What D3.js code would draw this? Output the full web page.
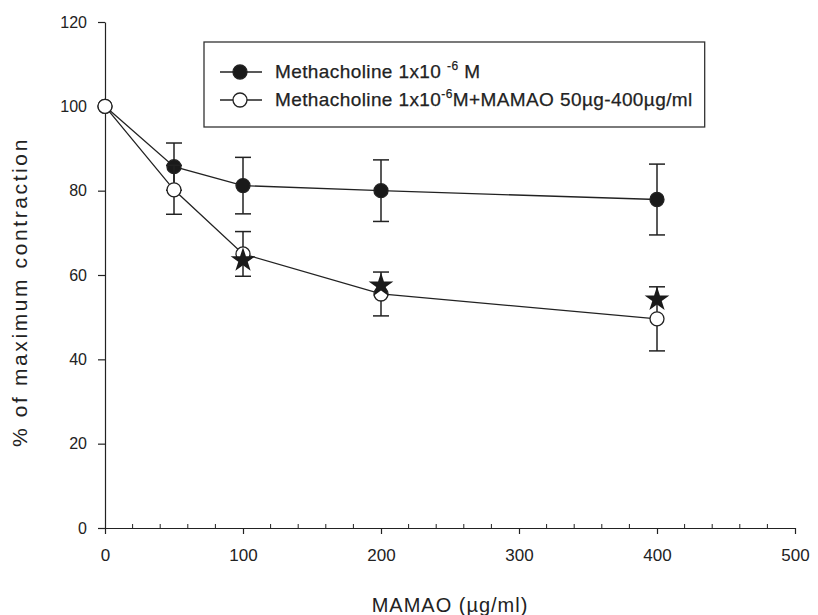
<!DOCTYPE html>
<html lang="en">
<head>
    <meta charset="UTF-8">
    <script src="https://d3js.org/d3.v7.min.js"></script>
    <title>Methacholine vs MAMAO</title>
    <style>
        body { margin: 0; background: #fff; }
        text { font-family: Arial, "Liberation Sans", sans-serif; fill: #222; }
    </style>
</head>
<body>
    <div id="chart"></div>
    <script>
        // data
        const doses = [0, 50, 100, 200, 400];
        const methMean = [100, 85.7, 81.2, 80.0, 77.9];
        const methErr = [0, 5.6, 6.7, 7.3, 8.4];
        const mamaoMean = [100, 80.2, 65.0, 55.5, 49.6];
        const mamaoErr = [0, 5.8, 5.3, 5.2, 7.6];
        const starDoses = [100, 200, 400];
        const starValues = [63.5, 57.5, 54.2];
        const xTicks = [0, 100, 200, 300, 400, 500];
        const yTicks = [0, 20, 40, 60, 80, 100, 120];

        const width = 818, height = 615;
        const margin = {top: 22, right: 23, bottom: 88, left: 105};

        const svg = d3.select("#chart").append("svg")
            .attr("width", width)
            .attr("height", height);

        const x = d3.scaleLinear().domain([0, 500]).range([margin.left, width - margin.right]);
        const y = d3.scaleLinear().domain([0, 120]).range([height - margin.bottom + 1, margin.top]);

        // x axis: major ticks pointing down, minor ticks up
        const gx = svg.append("g")
            .attr("transform", `translate(0,${y(0)})`)
            .call(d3.axisBottom(x).tickValues(xTicks).tickSize(6).tickSizeOuter(0).tickPadding(15));
        gx.selectAll(".tick text").attr("font-size", 17);
        const minor = d3.range(0, 501, 20).filter(v => v % 100 !== 0);
        gx.selectAll(".minor").data(minor).enter().append("line")
            .attr("x1", d => x(d)).attr("x2", d => x(d))
            .attr("y1", 0).attr("y2", -4)
            .attr("stroke", "#222");

        const gy = svg.append("g")
            .attr("transform", `translate(${x(0)},0)`)
            .call(d3.axisLeft(y).tickValues(yTicks).tickSize(7).tickSizeOuter(0).tickPadding(11));
        gy.selectAll(".tick text").attr("font-size", 16);
        svg.selectAll(".domain, .tick line").attr("stroke", "#222").attr("stroke-width", 1.2);

        // axis titles
        svg.append("text")
            .attr("x", 450).attr("y", 612)
            .attr("text-anchor", "middle")
            .attr("font-size", 20)
            .attr("letter-spacing", 1)
            .text("MAMAO (µg/ml)");
        svg.append("text")
            .attr("transform", `translate(27,292) rotate(-90)`)
            .attr("text-anchor", "middle")
            .attr("font-size", 21)
            .attr("letter-spacing", 2.6)
            .text("% of maximum contraction");

        const line = d3.line().x(d => x(d[0])).y(d => y(d[1]));

        function drawSeries(means, errs, fill) {
            const pts = doses.map((d, i) => [d, means[i], errs[i]]);
            svg.append("path").datum(pts)
                .attr("d", line)
                .attr("fill", "none")
                .attr("stroke", "#222")
                .attr("stroke-width", 1.3);
            const eb = svg.append("g");
            pts.filter(p => p[2] > 0).forEach(p => {
                const cx = x(p[0]);
                eb.append("line").attr("x1", cx).attr("x2", cx)
                    .attr("y1", y(p[1] - p[2])).attr("y2", y(p[1] + p[2]));
                [p[1] - p[2], p[1] + p[2]].forEach(v => {
                    eb.append("line").attr("x1", cx - 8).attr("x2", cx + 8)
                        .attr("y1", y(v)).attr("y2", y(v));
                });
            });
            eb.selectAll("line").attr("stroke", "#222").attr("stroke-width", 1.5);
            svg.append("g").selectAll("circle").data(pts).enter().append("circle")
                .attr("cx", d => x(d[0])).attr("cy", d => y(d[1]))
                .attr("r", 7)
                .attr("fill", fill)
                .attr("stroke", "#222")
                .attr("stroke-width", 1.3);
        }

        drawSeries(methMean, methErr, "#1a1a1a");
        drawSeries(mamaoMean, mamaoErr, "#fff");

        // significance stars
        svg.append("g").selectAll("path").data(starDoses).enter().append("path")
            .attr("d", d3.symbol().type(d3.symbolStar).size(190))
            .attr("transform", (d, i) => `translate(${x(d)},${y(starValues[i])})`)
            .attr("fill", "#1a1a1a");

        // legend
        const lg = svg.append("g");
        const box = lg.append("rect")
            .attr("x", 204).attr("y", 42).attr("height", 85)
            .attr("fill", "#fff").attr("stroke", "#333").attr("stroke-width", 1.3);
        const entries = [
            {fill: "#1a1a1a", y: 72, pre: "Methacholine 1x10 ", sup: "-6", post: " M"},
            {fill: "#fff", y: 100, pre: "Methacholine 1x10", sup: "-6", post: "M+MAMAO 50µg-400µg/ml"}
        ];
        let right = 0;
        entries.forEach(e => {
            lg.append("line").attr("x1", 220).attr("x2", 262)
                .attr("y1", e.y).attr("y2", e.y)
                .attr("stroke", "#222").attr("stroke-width", 1.3);
            lg.append("circle").attr("cx", 240).attr("cy", e.y).attr("r", 7)
                .attr("fill", e.fill).attr("stroke", "#222").attr("stroke-width", 1.3);
            const t = lg.append("text").attr("x", 275).attr("y", e.y + 6)
                .attr("font-size", 19)
                .attr("letter-spacing", 0.4)
                .style("white-space", "pre")
                .attr("stroke", "#222").attr("stroke-width", 0.25);
            t.append("tspan").text(e.pre);
            t.append("tspan").attr("dy", -8).attr("font-size", 12).text(e.sup);
            t.append("tspan").attr("dy", 8).text(e.post);
            const b = t.node().getBBox();
            right = Math.max(right, b.x + b.width);
        });
        box.attr("width", right + 12 - 204);
    </script>
</body>
</html>
